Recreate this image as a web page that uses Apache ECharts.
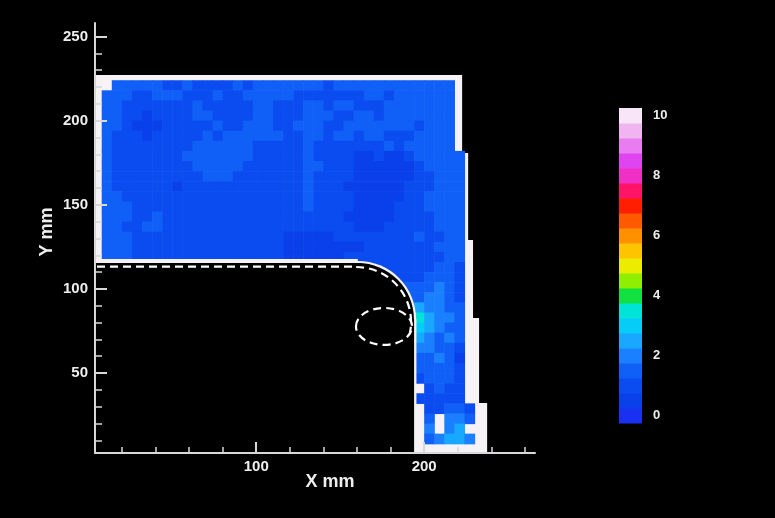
<!DOCTYPE html>
<html>
<head>
<meta charset="utf-8">
<style>
  html, body { margin: 0; padding: 0; background: #000; }
  #chart { width: 775px; height: 518px; }
</style>
<script src="https://cdn.jsdelivr.net/npm/echarts@6/dist/echarts.min.js"></script>
</head>
<body>
<div id="chart"></div>
<script>
// ---- tick values ----
const xMajorTicks = [100, 200];
const xMinorTicks = [20, 40, 60, 80, 100, 120, 140, 160, 180, 200, 220, 240, 260];
const yMajorTicks = [50, 100, 150, 200, 250];
const yMinorTicks = [10, 20, 30, 40, 50, 60, 70, 80, 90, 100, 110, 120, 130, 140, 150, 160,
                     170, 180, 190, 200, 210, 220, 230, 240, 250];
const barTicks = [0, 2, 4, 6, 8, 10];

// ---- contour levels and their colours (0 .. 10, step 0.5) ----
const levels = [0, 0.5, 1, 1.5, 2, 2.5, 3, 3.5, 4, 4.5, 5, 5.5, 6, 6.5, 7, 7.5, 8, 8.5, 9, 9.5, 10];
const levelColors = ['#1a30f0', '#0a40ea', '#0b4cf0', '#1060f8', '#1a80ff', '#18a8ff', '#08ccf8',
                     '#00e4d8', '#10e040', '#90ee00', '#ecec00', '#ffc400', '#ff9000', '#ff5a00',
                     '#ff1e00', '#ff1468', '#f030c4', '#e044f0', '#e87cf0', '#f0b4f0', '#f8e6f8'];

// ---- measured field, 6 mm cells ----
const cellSize = 6;     // mm
const gridX0 = 8;       // left edge of column 0 (mm)
const gridY0 = 8;       // bottom edge of row 0 (mm)

// upper flange: rows 35 (top) down to 18, starting at column 0
const upperRows = [
  [null,1.5,1.5,1.5,1.5,1.5,1.0,1.0,1.5,1.0,1.0,1.0,1.0,1.5,1.0,1.5,1.5,1.5,1.5,1.5,1.5,1.5,1.0,1.5,1.5,1.5,1.5,1.5,1.5,1.5,1.5,1.5,1.5,1.5,1.5],
  [1.5,1.5,1.5,1.0,1.0,1.5,1.5,1.5,1.0,1.0,1.0,1.5,1.0,1.0,1.5,1.5,1.5,1.5,1.5,1.0,1.0,1.0,1.0,1.0,1.0,1.0,1.5,1.5,1.0,1.5,1.5,1.5,1.5,1.5,1.5],
  [1.5,1.5,1.0,1.0,1.0,1.0,1.0,1.0,1.0,1.5,1.0,1.0,1.0,1.0,1.0,1.5,1.5,1.0,1.0,1.0,1.5,1.5,1.0,1.5,1.5,1.0,1.0,1.0,1.5,1.5,1.5,1.5,1.5,1.5,1.5],
  [1.5,1.5,1.0,1.0,0.5,1.0,1.0,1.0,1.0,1.5,1.5,1.0,1.0,1.0,1.0,1.5,1.5,1.0,1.0,1.0,1.5,1.5,1.5,1.0,1.0,1.5,1.5,1.0,1.5,1.5,1.5,1.5,1.5,1.5,1.5],
  [1.5,1.5,1.0,0.5,0.5,0.5,1.0,1.0,1.0,1.0,1.0,1.5,1.0,1.0,1.5,1.5,1.5,1.0,1.0,1.5,1.5,1.5,1.0,1.0,1.5,1.5,1.5,1.5,1.5,1.5,1.5,1.0,1.5,1.5,1.5],
  [1.5,1.0,1.0,1.0,0.5,1.0,1.0,1.0,1.0,1.0,1.5,1.0,1.5,1.5,1.5,1.5,1.5,1.5,1.0,1.0,1.5,1.5,1.0,1.5,1.5,1.0,1.5,1.5,1.0,1.0,1.0,1.5,1.5,1.5,1.5],
  [1.5,1.0,1.0,1.0,1.0,1.0,1.0,1.0,1.0,1.5,1.5,1.5,1.5,1.5,1.5,1.0,1.0,1.0,1.0,1.0,1.5,1.0,1.0,1.0,1.0,1.0,1.0,1.0,1.5,1.0,1.5,1.5,1.5,1.5,1.5],
  [1.5,1.0,1.0,1.0,1.0,1.0,1.0,1.0,1.5,1.5,1.5,1.5,1.5,1.5,1.5,1.0,1.0,1.0,1.0,1.0,1.5,1.0,1.0,1.0,1.0,0.5,0.5,1.0,0.5,0.5,1.0,1.5,1.5,1.5,1.5,1.5],
  [1.5,1.0,1.0,1.0,1.0,1.0,1.0,1.0,1.0,1.5,1.5,1.5,1.5,1.5,1.0,1.0,1.0,1.0,1.0,1.0,1.5,1.5,1.0,1.0,1.0,0.5,0.5,0.5,0.5,0.5,0.5,1.0,1.5,1.5,1.5,1.5],
  [1.5,1.0,1.0,1.0,1.0,1.0,1.0,1.0,1.0,1.0,1.5,1.5,1.5,1.0,1.0,1.0,1.0,1.0,1.0,1.0,1.5,1.0,1.0,1.0,1.0,0.5,0.5,0.5,0.5,0.5,0.5,1.0,1.0,1.5,1.5,1.5],
  [1.5,1.0,1.0,1.0,1.0,1.0,1.0,0.5,1.0,1.0,1.0,1.0,1.0,1.0,1.0,1.0,1.0,1.0,1.0,1.0,1.5,1.0,1.0,1.0,0.5,0.5,0.5,0.5,0.5,0.5,1.0,1.0,1.0,1.5,1.5,1.5],
  [1.5,1.5,1.0,1.0,1.0,1.0,1.0,1.0,1.0,1.0,1.0,1.0,1.0,1.0,1.0,1.0,1.0,1.0,1.0,1.0,1.5,1.0,1.0,1.0,1.0,0.5,0.5,0.5,0.5,0.5,1.0,1.0,1.5,1.5,1.5,1.5],
  [1.5,1.5,1.5,1.0,1.0,1.0,1.0,1.0,1.0,1.0,1.0,1.0,1.0,1.0,1.0,1.0,1.0,1.0,1.0,1.0,1.5,1.0,1.0,1.0,1.0,0.5,0.5,0.5,0.5,1.0,1.0,1.0,1.5,1.5,1.5,1.5],
  [1.5,1.5,1.5,1.0,1.0,1.5,1.0,1.0,1.0,1.0,1.0,1.0,1.0,1.0,1.0,1.0,1.0,1.0,1.0,1.0,1.0,1.0,1.0,1.0,0.5,0.5,0.5,0.5,0.5,1.0,1.0,1.0,1.0,1.5,1.5,1.5],
  [1.5,1.5,1.0,1.0,1.5,1.5,1.0,1.0,1.0,1.0,1.0,1.0,1.0,1.0,1.0,1.0,1.0,1.0,1.0,1.0,1.0,1.0,1.0,1.0,1.0,0.5,0.5,0.5,1.0,1.0,1.0,1.0,1.0,1.5,1.5,1.5],
  [1.5,1.5,1.5,1.0,1.0,1.0,1.0,1.0,1.0,1.0,1.0,1.0,1.0,1.0,1.0,1.0,1.0,1.0,0.5,0.5,0.5,0.5,0.5,1.0,1.0,1.0,1.0,1.0,1.0,1.0,1.0,1.5,1.0,1.0,1.5,1.5],
  [1.5,1.5,1.5,1.0,1.0,1.0,1.0,1.0,1.0,1.0,1.0,1.0,1.0,1.0,1.0,1.0,1.0,1.0,0.5,0.5,0.5,0.5,0.5,0.5,0.5,0.5,1.0,1.0,1.0,1.0,1.0,1.0,1.0,1.5,1.5,1.5],
  [1.5,1.5,1.5,1.0,1.0,1.0,1.0,1.0,1.0,1.0,1.0,1.0,1.0,1.0,1.0,1.0,1.0,1.0,0.5,0.5,0.5,0.5,0.5,0.5,1.0,1.0,1.0,1.0,1.0,1.0,1.0,1.0,1.0,1.0,1.5,1.5]
];

// web / leg: rows 17 down to 0, starting at column 26
const legFirstCol = 26;
const legRows = [
  [1.0,1.0,1.0,1.0,1.0,1.0,1.0,1.5,1.5,1.0],
  [1.0,1.0,1.0,1.0,1.0,1.0,1.5,1.5,1.5,1.0],
  [1.0,1.0,1.0,1.0,1.5,1.5,1.5,2.0,1.5,1.0],
  [1.0,1.0,1.0,1.0,1.5,1.5,2.0,2.0,1.5,1.0],
  [1.0,1.0,1.0,1.5,1.5,2.5,2.0,2.0,1.5,1.5],
  [null,null,null,null,null,3.5,2.5,2.0,2.0,1.5],
  [null,null,null,null,null,3.0,2.5,2.0,1.5,1.5],
  [null,null,null,null,null,2.5,2.0,1.5,2.0,1.5],
  [null,null,null,null,null,2.0,2.0,1.5,1.5,1.0],
  [null,null,null,null,null,1.5,1.5,2.0,1.5,0.5],
  [null,null,null,null,null,1.5,1.5,1.5,1.5,1.0],
  [null,null,null,null,null,1.0,1.5,1.5,1.5,1.0],
  [null,null,null,null,null,null,1.0,1.5,1.0,1.0],
  [null,null,null,null,null,1.0,1.0,1.0,1.0,1.0],
  [null,null,null,null,null,null,1.0,1.0,1.5,1.5,1.0],
  [null,null,null,null,null,null,1.5,null,2.0,2.0,1.5],
  [null,null,null,null,null,null,2.0,null,2.0,2.5,null],
  [null,null,null,null,null,null,1.5,2.0,2.5,2.5,2.0]
];

// ---- plate geometry (mm) ----
const specimenOutline = [[4, 227.1], [222.6, 227.1], [222.6, 180.8], [226.2, 180.8], [226.2, 129.1],
  [229.1, 129.1], [229.1, 82.7], [232.7, 82.7], [232.7, 32.2], [237.5, 32.2], [237.5, 2.5], [4, 2.5]];
const notch = { left: 4, bottom: 2.5, top: 115.4, right: 194, cx: 160.5, cy: 82, r: 33.4 };
const margin = { top: 117.8, right: 195.4, r: 34.7 };
const dashedEdge = { x1: 5.2, y: 113.2, cx: 159.5, cy: 80.4, r: 32.7, endAngle: 0.22 };
const dashedHole = { cx: 176.1, cy: 77.7, rx: 16.7, ry: 11 };

// ---- build cell list from the row tables ----
const cellData = [];
upperRows.forEach(function (row, i) {
  const r = 35 - i;
  row.forEach(function (v, c) {
    if (v !== null) cellData.push([gridX0 + c * cellSize, gridY0 + r * cellSize, v]);
  });
});
legRows.forEach(function (row, i) {
  const r = 17 - i;
  row.forEach(function (v, c) {
    if (v !== null) cellData.push([gridX0 + (legFirstCol + c) * cellSize, gridY0 + r * cellSize, v]);
  });
});
const barData = levels.map(function (v) { return [0, v, v]; });
const pieces = levels.map(function (v, i) { return { gte: v - 0.25, lt: v + 0.25, color: levelColors[i] }; });

const AXIS_COLOR = '#d8d8d8';
const TEXT_COLOR = '#eeeeee';
const FONT = 'Liberation Sans, Arial, sans-serif';

function rectMM(api, x1, y1, x2, y2, fill) {
  const a = api.coord([x1, y2]);
  const b = api.coord([x2, y1]);
  return { type: 'rect', shape: { x: a[0], y: a[1], width: b[0] - a[0], height: b[1] - a[1] }, style: { fill: fill } };
}
function circleMM(api, cx, cy, r, fill) {
  const c = api.coord([cx, cy]);
  const s = api.size([r, r]);
  return { type: 'circle', shape: { cx: c[0], cy: c[1], r: s[0] }, style: { fill: fill } };
}

const chart = echarts.init(document.getElementById('chart'), null, { renderer: 'canvas' });

const option = {
  backgroundColor: '#000000',
  animation: false,
  grid: [
    { left: 95, top: 23, width: 440, height: 430 },
    { left: 619, top: 108, width: 23, height: 315 }
  ],
  xAxis: [
    {
      type: 'value', gridIndex: 0, min: 4, max: 266, position: 'bottom', z: 6,
      splitLine: { show: false },
      axisLine: { lineStyle: { color: AXIS_COLOR, width: 2 } },
      axisTick: { customValues: xMajorTicks, inside: true, length: 11, lineStyle: { color: AXIS_COLOR, width: 2 } },
      axisLabel: { customValues: xMajorTicks, color: TEXT_COLOR, fontSize: 15, fontWeight: 'bold', fontFamily: FONT, margin: 6 }
    },
    {
      type: 'value', gridIndex: 0, min: 4, max: 266, position: 'bottom', z: 6,
      splitLine: { show: false },
      axisLine: { show: false },
      axisTick: { customValues: xMinorTicks, inside: true, length: 6, lineStyle: { color: AXIS_COLOR, width: 1.5 } },
      axisLabel: { show: false }
    },
    { type: 'value', gridIndex: 1, min: 0, max: 1, show: false }
  ],
  yAxis: [
    {
      type: 'value', gridIndex: 0, min: 2.5, max: 258, position: 'left', z: 6,
      splitLine: { show: false },
      axisLine: { lineStyle: { color: AXIS_COLOR, width: 2 } },
      axisTick: { customValues: yMajorTicks, inside: true, length: 12, lineStyle: { color: AXIS_COLOR, width: 2 } },
      axisLabel: { customValues: yMajorTicks, color: TEXT_COLOR, fontSize: 15, fontWeight: 'bold', fontFamily: FONT, margin: 7 }
    },
    {
      type: 'value', gridIndex: 0, min: 2.5, max: 258, position: 'left', z: 6,
      splitLine: { show: false },
      axisLine: { show: false },
      axisTick: { customValues: yMinorTicks, inside: true, length: 7, lineStyle: { color: AXIS_COLOR, width: 1.5 } },
      axisLabel: { show: false }
    },
    {
      type: 'value', gridIndex: 1, min: -0.25, max: 10.25, position: 'right',
      splitLine: { show: false },
      axisLine: { show: false },
      axisTick: { show: false },
      axisLabel: { customValues: barTicks, color: TEXT_COLOR, fontSize: 13, fontWeight: 'bold', fontFamily: FONT, margin: 11 }
    }
  ],
  visualMap: {
    type: 'piecewise', show: false, dimension: 2, seriesIndex: [1, 5], pieces: pieces
  },
  graphic: [
    { type: 'text', x: 330, y: 482, z: 10,
      style: { text: 'X mm', fill: TEXT_COLOR, font: 'bold 18px ' + FONT, textAlign: 'center', textVerticalAlign: 'middle' } },
    { type: 'text', x: 47, y: 232, rotation: Math.PI / 2, z: 10,
      style: { text: 'Y mm', fill: TEXT_COLOR, font: 'bold 18px ' + FONT, textAlign: 'center', textVerticalAlign: 'middle' } }
  ],
  series: [
    { // plate outline (white, regions without data)
      type: 'custom', xAxisIndex: 0, yAxisIndex: 0, z: 1, clip: true, silent: true,
      data: [[0, 0]],
      renderItem: function (params, api) {
        return { type: 'polygon', shape: { points: specimenOutline.map(function (p) { return api.coord(p); }) },
                 style: { fill: '#f6f2f6' } };
      }
    },
    { // measured field
      type: 'custom', xAxisIndex: 0, yAxisIndex: 0, z: 2, clip: true, silent: true,
      data: cellData,
      renderItem: function (params, api) {
        const x = api.value(0), y = api.value(1);
        const p = api.coord([x, y + cellSize]);
        const s = api.size([cellSize, cellSize]);
        return { type: 'rect', shape: { x: p[0], y: p[1], width: s[0] + 0.6, height: s[1] + 0.6 },
                 style: { fill: api.visual('color') } };
      }
    },
    { // unmeasured margin along the notch
      type: 'custom', xAxisIndex: 0, yAxisIndex: 0, z: 3, clip: true, silent: true,
      data: [[0, 0]],
      renderItem: function (params, api) {
        return { type: 'group', children: [
          circleMM(api, notch.cx, notch.cy, margin.r, '#f6f2f6'),
          rectMM(api, notch.left, notch.top - 0.5, notch.cx, margin.top, '#f6f2f6'),
          rectMM(api, notch.right - 0.5, notch.bottom, margin.right, notch.cy, '#f6f2f6')
        ] };
      }
    },
    { // cut-out of the plate
      type: 'custom', xAxisIndex: 0, yAxisIndex: 0, z: 4, clip: true, silent: true,
      data: [[0, 0]],
      renderItem: function (params, api) {
        return { type: 'group', children: [
          rectMM(api, notch.left, notch.bottom, notch.cx + 2, notch.top, '#000000'),
          rectMM(api, notch.cx - 2, notch.bottom, notch.right, notch.cy, '#000000'),
          circleMM(api, notch.cx, notch.cy, notch.r, '#000000')
        ] };
      }
    },
    { // dashed edge of the cut-out and the hole
      type: 'custom', xAxisIndex: 0, yAxisIndex: 0, z: 5, clip: true, silent: true,
      data: [[0, 0]],
      renderItem: function (params, api) {
        const lineStyle = { stroke: '#ffffff', lineWidth: 2.2, lineDash: [8, 5], fill: null };
        const p1 = api.coord([dashedEdge.x1, dashedEdge.y]);
        const p2 = api.coord([dashedEdge.cx, dashedEdge.y]);
        const c = api.coord([dashedEdge.cx, dashedEdge.cy]);
        const r = api.size([dashedEdge.r, dashedEdge.r]);
        const h = api.coord([dashedHole.cx, dashedHole.cy]);
        const hs = api.size([dashedHole.rx, dashedHole.ry]);
        return { type: 'group', children: [
          { type: 'line', shape: { x1: p1[0], y1: p1[1], x2: p2[0], y2: p2[1] }, style: lineStyle },
          { type: 'arc', shape: { cx: c[0], cy: c[1], r: r[0], startAngle: -Math.PI / 2, endAngle: dashedEdge.endAngle, clockwise: true },
            style: lineStyle },
          { type: 'ellipse', shape: { cx: h[0], cy: h[1], rx: hs[0], ry: hs[1] }, style: lineStyle }
        ] };
      }
    },
    { // colour bar
      type: 'custom', xAxisIndex: 2, yAxisIndex: 2, z: 2, silent: true,
      data: barData,
      renderItem: function (params, api) {
        const v = api.value(1);
        const a = api.coord([0, v + 0.25]);
        const b = api.coord([1, v - 0.25]);
        return { type: 'rect', shape: { x: a[0], y: a[1], width: b[0] - a[0], height: b[1] - a[1] + 0.5 },
                 style: { fill: api.visual('color') } };
      }
    }
  ]
};

chart.setOption(option);
</script>
</body>
</html>
